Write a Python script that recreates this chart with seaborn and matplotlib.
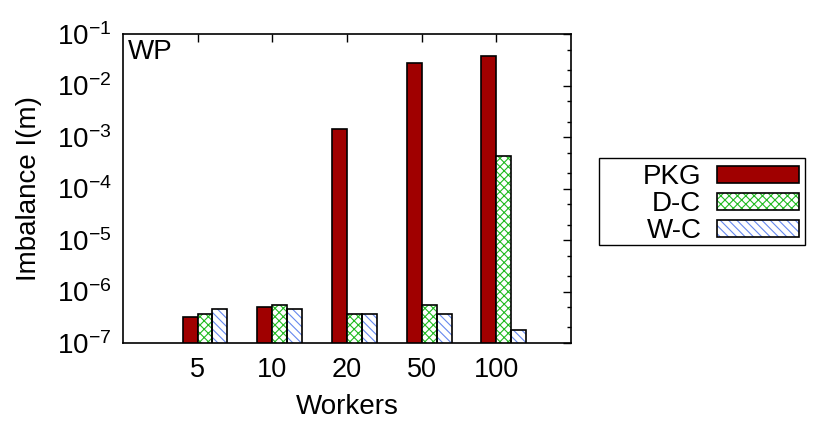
import matplotlib
matplotlib.use("Agg")
import matplotlib.pyplot as plt
import seaborn as sns
import pandas as pd
from matplotlib.patches import Rectangle, Patch
from matplotlib.legend_handler import HandlerTuple
from matplotlib.ticker import LogLocator

workers = ["5", "10", "20", "50", "100"]
methods = ["PKG", "D-C", "W-C"]
pkg = [3.2e-7, 5.1e-7, 1.4e-3, 2.7e-2, 3.7e-2]
dc = [3.6e-7, 5.5e-7, 3.6e-7, 5.5e-7, 4.3e-4]
wc = [4.6e-7, 4.6e-7, 3.6e-7, 3.6e-7, 1.8e-7]
ytick_exps = [-7, -6, -5, -4, -3, -2, -1]

sns.set_style("white")
plt.rcParams["font.family"] = ["Liberation Sans", "DejaVu Sans"]
plt.rcParams["mathtext.default"] = "regular"
plt.rcParams["hatch.linewidth"] = 0.8
plt.rcParams["text.color"] = "black"
plt.rcParams["axes.labelcolor"] = "black"
plt.rcParams["xtick.color"] = "black"
plt.rcParams["ytick.color"] = "black"

df = pd.DataFrame({
    "Workers": workers * 3,
    "method": [m for m in methods for _ in workers],
    "value": pkg + dc + wc,
})

fills = {"PKG": "#a00000", "D-C": "white", "W-C": "white"}
hatch_col = {"PKG": "#a00000", "D-C": "#22bb22", "W-C": "#6688ee"}
hatches = {"PKG": "", "D-C": "xxxx", "W-C": "\\\\\\\\"}

fig = plt.figure(figsize=(8.3, 4.36), dpi=100)
ax = fig.add_axes([0.148, 0.2133, 0.54, 0.7087])
ax.set_yscale("log")
sns.barplot(data=df, x="Workers", y="value", hue="method", hue_order=methods,
            palette=fills, saturation=1, width=0.6, edgecolor="black",
            linewidth=1.2, legend=False, ax=ax)

for m, cont in zip(methods, ax.containers):
    for p in cont.patches:
        if m != "PKG":
            p.set_hatch(hatches[m])
            p.set_edgecolor(hatch_col[m])
            p.set_linewidth(0)
            ax.add_patch(Rectangle(p.get_xy(), p.get_width(), p.get_height(),
                                   fill=False, edgecolor="black", linewidth=1.2,
                                   zorder=p.get_zorder() + 0.1))

ax.set_ylim(1e-7, 1e-1)
ax.set_xlim(-1.1, 4.9)
ax.set_xticks([i - 0.1 for i in range(len(workers))])
ax.set_xticklabels(workers, fontsize=19.5)
ax.set_yticks([10.0 ** e for e in ytick_exps])
ax.set_yticklabels([f"$10^{{{e}}}$" for e in ytick_exps], fontsize=20)
ax.yaxis.set_minor_locator(LogLocator(base=10, subs=(2.0, 5.0)))
ax.tick_params(axis="both", which="both", direction="in", top=True, right=True,
               length=6, width=1, color="black")
ax.tick_params(axis="y", which="minor", length=3)
ax.tick_params(axis="x", pad=10)
ax.tick_params(axis="y", pad=8)
for s in ax.spines.values():
    s.set_edgecolor("black")
    s.set_linewidth(1.2)

ax.set_xlabel("Workers", fontsize=20, labelpad=8)
ax.set_ylabel("Imbalance I(m)", fontsize=20, labelpad=11)
ax.text(0.012, 0.985, "WP", transform=ax.transAxes, fontsize=20,
        ha="left", va="top")

handles = []
for m in methods:
    if m == "PKG":
        handles.append(Patch(facecolor=fills[m], edgecolor="black", linewidth=1.2))
    else:
        handles.append((Patch(facecolor="white", edgecolor=hatch_col[m],
                              hatch=hatches[m], linewidth=0),
                        Patch(facecolor="none", edgecolor="black", linewidth=1.2)))
leg = fig.legend(handles, methods, loc="upper right",
                 bbox_to_anchor=(807 / 830, 1 - 156 / 436),
                 markerfirst=False, fontsize=20, handlelength=2.95, handleheight=0.55,
                 labelspacing=0.03, handletextpad=0.55, borderpad=0.3,
                 borderaxespad=0, frameon=False,
                 handler_map={tuple: HandlerTuple(ndivide=1)})
for t in leg.get_texts():
    t.set_ha("right")
fig.patches.append(Rectangle((599 / 830, 1 - 245 / 436), 206 / 830, 87 / 436,
                             transform=fig.transFigure, fill=False,
                             edgecolor="black", linewidth=1.0))

fig.savefig("out.png", dpi=100)
